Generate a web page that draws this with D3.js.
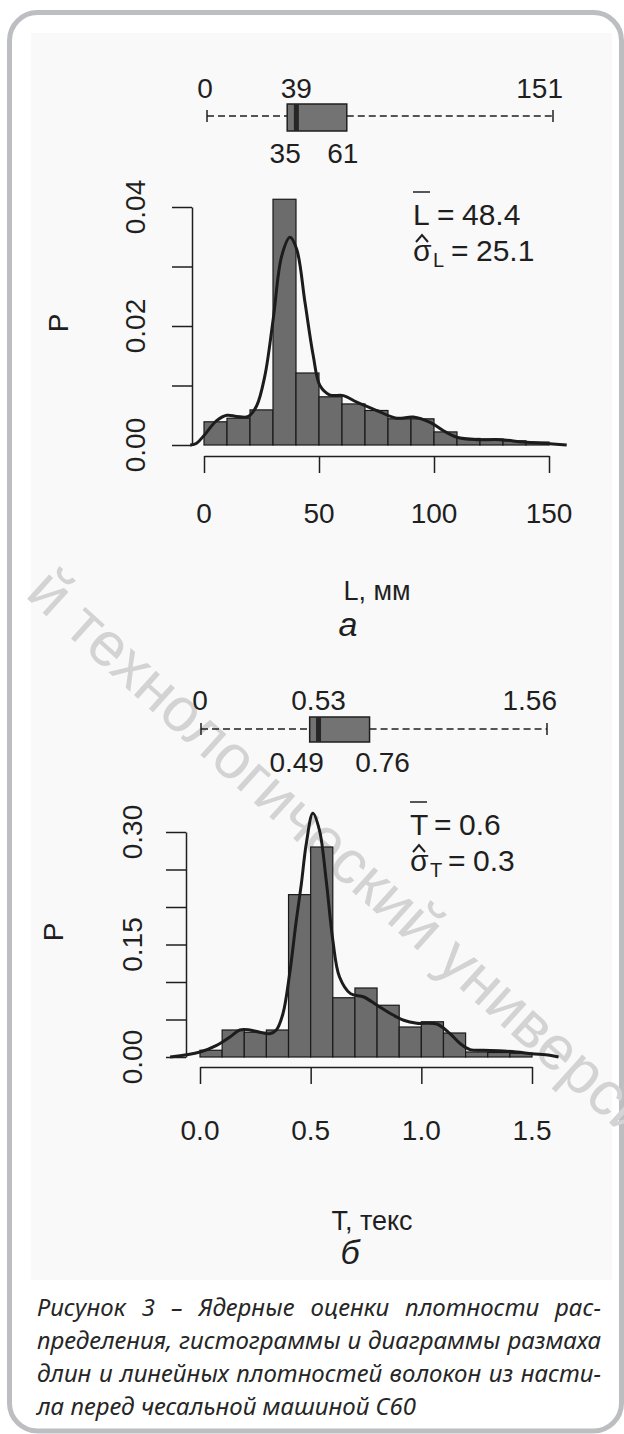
<!DOCTYPE html>
<html><head><meta charset="utf-8">
<script src="https://cdn.jsdelivr.net/npm/d3@7"></script>
<style>
body{margin:0;background:#fff;}
#wrap{position:relative;width:624px;height:1434px;overflow:hidden;}
svg{position:absolute;left:0;top:0;}
#cap{position:absolute;left:37px;top:1290px;width:564px;font-family:"Noto Sans",sans-serif;font-style:italic;font-size:24px;line-height:33px;color:#262626;}
#cap div{text-align:justify;text-align-last:justify;height:33px;}
#cap div.last{text-align-last:left;}
</style>
</head><body>
<div id="wrap"><svg id="chart" width="624" height="1434"></svg>
<div id="cap"></div></div>
<script>
// ---------- DATA ----------
// Panel а : fibre length L, mm
const binEdgesA = [0,10,20,30,40,50,60,70,80,90,100,110,120,130,140,150];
const binValuesA = [0.0039,0.0045,0.0059,0.0413,0.0121,0.0081,0.0069,0.0058,0.0044,0.0044,0.0022,0.0011,0.0010,0.0007,0.0005];
const densXA = [-6,-3.2,0,5.5,10,14.2,19.3,22.9,26.5,30.1,33.8,37.4,40.3,43.9,47.5,50.4,54.8,60.6,66.4,75.1,83.8,91,98.3,104.1,110,118.6,128.7,138.8,150.4,157.7];
const densYA = [0,0.0003,0.0016,0.0041,0.0050,0.0048,0.0048,0.0066,0.0117,0.0212,0.0318,0.0349,0.0329,0.0240,0.0150,0.0100,0.0084,0.0083,0.0072,0.0058,0.0045,0.0047,0.0038,0.0024,0.0013,0.0009,0.0009,0.0005,0.0002,0];
const boxA = [0,35,39,61,151];
const boxLabelsA = ["0","35","39","61","151"];
const yTicksA = [0,0.01,0.02,0.03,0.04];
const yLabelValsA = [0,0.02,0.04];
const yLabelTxtA = ["0.00","0.02","0.04"];
const xTicksA = [0,50,100,150];
const xTickTxtA = ["0","50","100","150"];

// Panel б : linear density T, tex
const binEdgesB = [0,0.1,0.2,0.3,0.4,0.5,0.6,0.7,0.8,0.9,1.0,1.1,1.2,1.3,1.4,1.5];
const binValuesB = [0.009,0.036,0.033,0.036,0.2165,0.280,0.079,0.092,0.069,0.040,0.047,0.032,0.0067,0.006,0.005];
const densXB = [-0.135,0,0.075,0.135,0.18,0.225,0.27,0.315,0.345,0.375,0.405,0.435,0.458,0.48,0.51,0.54,0.57,0.60,0.63,0.68,0.74,0.80,0.86,0.92,0.98,1.07,1.13,1.175,1.22,1.28,1.35,1.43,1.5,1.58,1.62];
const densYB = [0,0.0067,0.0156,0.0267,0.036,0.036,0.033,0.031,0.036,0.058,0.111,0.182,0.231,0.284,0.325,0.302,0.236,0.156,0.107,0.0845,0.080,0.069,0.058,0.049,0.045,0.044,0.031,0.018,0.0099,0.0089,0.0085,0.0067,0.0044,0.0022,0];
const boxB = [0,0.49,0.53,0.76,1.56];
const boxLabelsB = ["0","0.49","0.53","0.76","1.56"];
const yTicksB = [0,0.05,0.10,0.15,0.20,0.25,0.30];
const yLabelValsB = [0,0.15,0.30];
const yLabelTxtB = ["0.00","0.15","0.30"];
const xTicksB = [0,0.5,1.0,1.5];
const xTickTxtB = ["0.0","0.5","1.0","1.5"];

const captionLines = [
 "Рисунок 3 – Ядерные оценки плотности рас-",
 "пределения, гистограммы и диаграммы размаха",
 "длин и линейных плотностей волокон из насти-",
 "ла перед чесальной машиной С60"
];

// ---------- DRAW ----------
const svg = d3.select("#chart");
const FONT = "'Liberation Sans', Arial, sans-serif";
const INK = "#1f1f1f";

// frame + light panel
svg.append("rect").attr("x",31).attr("y",33).attr("width",581).attr("height",1247).attr("fill","#f9f9f9");
svg.append("rect").attr("x",9.5).attr("y",12.5).attr("width",612).attr("height",1418.5).attr("rx",28)
  .attr("fill","none").attr("stroke","#bdbec2").attr("stroke-width",5);

// watermark (beneath chart marks)
svg.append("text").attr("transform","translate(24,596) rotate(42)")
  .attr("font-family",FONT).attr("font-size",62).attr("fill","#d3d3d3")
  .text("й технологический университет");

function panel(p){
  const g = svg.append("g").attr("font-family",FONT).attr("fill",INK);
  // ---- box plot ----
  const bx = d3.scaleLinear().domain([p.box[0],p.box[4]]).range(p.boxRange);
  const wy = p.whiskerY;
  g.append("line").attr("x1",bx(p.box[0])).attr("x2",bx(p.box[1])).attr("y1",wy).attr("y2",wy)
    .attr("stroke",INK).attr("stroke-width",1.5).attr("stroke-dasharray","7,4");
  g.append("line").attr("x1",bx(p.box[3])).attr("x2",bx(p.box[4])).attr("y1",wy).attr("y2",wy)
    .attr("stroke",INK).attr("stroke-width",1.5).attr("stroke-dasharray","7,4");
  [p.box[0],p.box[4]].forEach(v=>g.append("line").attr("x1",bx(v)).attr("x2",bx(v))
    .attr("y1",wy-6).attr("y2",wy+6).attr("stroke",INK).attr("stroke-width",1.5));
  g.append("rect").attr("x",bx(p.box[1])).attr("width",bx(p.box[3])-bx(p.box[1]))
    .attr("y",p.boxTop).attr("height",p.boxH).attr("fill","#737373").attr("stroke",INK).attr("stroke-width",1.5);
  g.append("line").attr("x1",bx(p.box[2])).attr("x2",bx(p.box[2])).attr("y1",p.boxTop).attr("y2",p.boxTop+p.boxH)
    .attr("stroke","#262626").attr("stroke-width",5);
  const bl = p.boxLabels;
  g.append("text").attr("x",bx(p.box[0])+p.nud[0]).attr("y",p.topLabY).attr("text-anchor","middle").attr("font-size",28).text(bl[0]);
  g.append("text").attr("x",bx(p.box[2])).attr("y",p.topLabY).attr("text-anchor","middle").attr("font-size",28).text(bl[2]);
  g.append("text").attr("x",bx(p.box[4])+10).attr("y",p.topLabY).attr("text-anchor","end").attr("font-size",28).text(bl[4]);
  g.append("text").attr("x",bx(p.box[1])+p.nud[1]).attr("y",p.botLabY).attr("text-anchor","middle").attr("font-size",28).text(bl[1]);
  g.append("text").attr("x",bx(p.box[3])+p.nud[3]).attr("y",p.botLabY).attr("text-anchor","middle").attr("font-size",28).text(bl[3]);

  // ---- histogram ----
  const x = d3.scaleLinear().domain(p.xDomain).range(p.xRange);
  const y = d3.scaleLinear().domain(p.yDomain).range(p.yRange);
  const bins = p.values.map((v,i)=>({x0:p.edges[i],x1:p.edges[i+1],v}));
  g.selectAll("rect.bar").data(bins).join("rect").attr("class","bar")
    .attr("x",d=>x(d.x0)).attr("width",d=>x(d.x1)-x(d.x0))
    .attr("y",d=>y(d.v)).attr("height",d=>y(0)-y(d.v))
    .attr("fill","#6c6c6c").attr("stroke","#1a1a1a").attr("stroke-width",1.2);
  const pts = p.dx.map((d,i)=>[d,p.dy[i]]);
  g.append("path").datum(pts)
    .attr("d",d3.line().x(d=>x(d[0])).y(d=>y(d[1])).curve(d3.curveCatmullRom.alpha(0.5)))
    .attr("fill","none").attr("stroke","#1c1c1c").attr("stroke-width",3).attr("stroke-linejoin","round");

  // y axis
  const ya = g.append("g").attr("transform",`translate(${p.yAxisX},0)`)
    .call(d3.axisLeft(y).tickValues(p.yTicks).tickSize(20).tickSizeOuter(0).tickFormat(""));
  ya.selectAll("path,line").attr("stroke",INK).attr("stroke-width",1.5);
  p.yLabVals.forEach((v,i)=>g.append("text")
    .attr("transform",`translate(${p.yLabX},${y(v)}) rotate(-90)`)
    .attr("text-anchor","middle").attr("font-size",28).text(p.yLabTxt[i]));
  g.append("text").attr("transform",`translate(${p.pX},${p.pY}) rotate(-90)`)
    .attr("text-anchor","middle").attr("font-size",28).text("P");

  // x axis
  const xa = g.append("g").attr("transform",`translate(0,${p.xAxisY})`)
    .call(d3.axisBottom(x).tickValues(p.xTicks).tickSize(17).tickSizeOuter(0).tickFormat(""));
  xa.selectAll("path,line").attr("stroke",INK).attr("stroke-width",1.5);
  p.xTicks.forEach((v,i)=>g.append("text").attr("x",x(v)).attr("y",p.xLabY)
    .attr("text-anchor","middle").attr("font-size",28).text(p.xTickTxt[i]));
  g.append("text").attr("x",p.titleX).attr("y",p.titleY).attr("text-anchor","middle").attr("font-size",27).text(p.title);
  g.append("text").attr("x",p.letterX).attr("y",p.letterY).attr("text-anchor","middle")
    .attr("font-size",34).attr("font-style","italic").text(p.letter);

  // stats
  const sx = p.statX;
  g.append("text").attr("x",sx).attr("y",p.meanY).attr("font-size",30).text(p.sym);
  g.append("line").attr("x1",sx).attr("x2",sx+17).attr("y1",p.meanY-33).attr("y2",p.meanY-33).attr("stroke",INK).attr("stroke-width",1.5);
  g.append("text").attr("x",sx+24).attr("y",p.meanY).attr("font-size",30).text("=");
  g.append("text").attr("x",sx+49).attr("y",p.meanY).attr("font-size",30).text(p.meanTxt);
  g.append("text").attr("x",sx).attr("y",p.sdY).attr("font-size",30).text("σ");
  g.append("path").attr("d",`M${sx+3},${p.sdY-19}L${sx+9},${p.sdY-26}L${sx+15},${p.sdY-19}`)
    .attr("fill","none").attr("stroke",INK).attr("stroke-width",2);
  g.append("text").attr("x",sx+20).attr("y",p.sdY+6).attr("font-size",20).text(p.sym);
  g.append("text").attr("x",sx+38).attr("y",p.sdY).attr("font-size",30).text("=");
  g.append("text").attr("x",sx+63).attr("y",p.sdY).attr("font-size",30).text(p.sdTxt);
}

panel({box:boxA, boxLabels:boxLabelsA, boxRange:[207,553], whiskerY:116, boxTop:104, boxH:27,
  topLabY:98, botLabY:163, nud:[-2,-2,0,-4,0],
  edges:binEdgesA, values:binValuesA, dx:densXA, dy:densYA,
  xDomain:[0,150], xRange:[204,549], yDomain:[0,0.04], yRange:[445,207],
  yAxisX:192, yTicks:yTicksA, yLabVals:yLabelValsA, yLabTxt:yLabelTxtA, yLabX:145, pX:68, pY:323,
  xAxisY:456, xTicks:xTicksA, xTickTxt:xTickTxtA, xLabY:523,
  title:"L, мм", titleX:377, titleY:600, letter:"а", letterX:348, letterY:636,
  sym:"L", meanTxt:"48.4", sdTxt:"25.1", statX:413, meanY:225, sdY:261});

panel({box:boxB, boxLabels:boxLabelsB, boxRange:[201,547], whiskerY:729, boxTop:717, boxH:25,
  topLabY:710, botLabY:772, nud:[-1,-13,0,13,0],
  edges:binEdgesB, values:binValuesB, dx:densXB, dy:densYB,
  xDomain:[0,1.5], xRange:[200,532], yDomain:[0,0.30], yRange:[1057,832],
  yAxisX:186, yTicks:yTicksB, yLabVals:yLabelValsB, yLabTxt:yLabelTxtB, yLabX:142, pX:63, pY:932,
  xAxisY:1067, xTicks:xTicksB, xTickTxt:xTickTxtB, xLabY:1140,
  title:"Т, текс", titleX:372, titleY:1230, letter:"б", letterX:350, letterY:1264,
  sym:"T", meanTxt:"0.6", sdTxt:"0.3", statX:410, meanY:835, sdY:871});

// caption
d3.select("#cap").selectAll("div").data(captionLines).join("div")
  .attr("class",(d,i)=>i===captionLines.length-1?"last":null).text(d=>d);
</script>
</body></html>
